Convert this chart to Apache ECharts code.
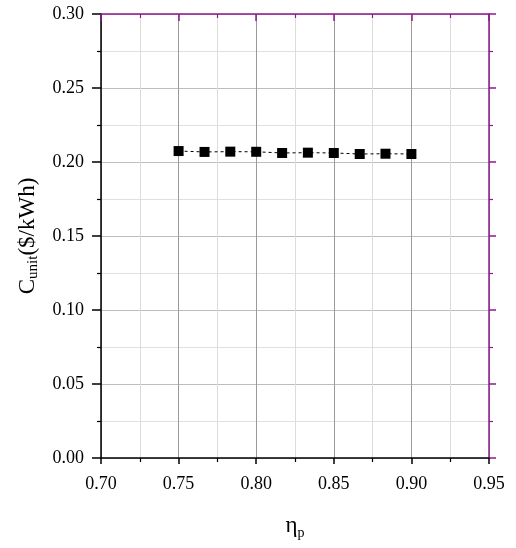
<!DOCTYPE html>
<html>
<head>
<meta charset="utf-8">
<script src="https://cdn.jsdelivr.net/npm/echarts@6/dist/echarts.min.js"></script>
<style>html,body{margin:0;padding:0;background:#fff;}#c{width:516px;height:548px;}</style>
</head>
<body>
<div id="c"></div>
<script>
const etaP = [0.75, 0.7667, 0.7833, 0.80, 0.8167, 0.8333, 0.85, 0.8667, 0.8833, 0.90];
const cUnit = [0.2074, 0.2068, 0.2070, 0.2069, 0.2061, 0.2063, 0.2061, 0.2054, 0.2056, 0.2054];
const xTicks = [0.70, 0.75, 0.80, 0.85, 0.90, 0.95];
const yTicks = [0.00, 0.05, 0.10, 0.15, 0.20, 0.25, 0.30];

const FONT = 'Liberation Serif';
const PURPLE = '#8f1a8f';
const chart = echarts.init(document.getElementById('c'), null, {renderer: 'canvas'});
chart.setOption({
  animation: false,
  grid: {left: 101, right: 27, top: 14, bottom: 90, containLabel: false},
  xAxis: [{
    type: 'value', min: xTicks[0], max: xTicks[xTicks.length - 1], interval: 0.05,
    position: 'bottom',
    axisLine: {show: true, onZero: false, lineStyle: {color: '#000', width: 1.5}},
    axisTick: {show: true, length: 6, lineStyle: {color: '#000', width: 1.5}},
    minorTick: {show: true, splitNumber: 2, length: 4, lineStyle: {color: '#000', width: 1.2}},
    axisLabel: {fontFamily: FONT, fontSize: 18, color: '#000', margin: 17, formatter: v => v.toFixed(2)},
    splitLine: {show: true, lineStyle: {color: '#9a9a9a', width: 1}},
    minorSplitLine: {show: true, lineStyle: {color: '#dcdcdc', width: 1}},
    name: '{a|η}{s|p}', nameLocation: 'middle', nameGap: 54,
    nameTextStyle: {rich: {
      a: {fontFamily: FONT, fontSize: 23, color: '#000'},
      s: {fontFamily: FONT, fontSize: 14, color: '#000', verticalAlign: 'bottom', padding: [14, 0, 0, 0]}
    }}
  }, {
    type: 'value', min: xTicks[0], max: xTicks[xTicks.length - 1], interval: 0.05,
    position: 'top',
    axisLine: {show: true, onZero: false, lineStyle: {color: PURPLE, width: 1.5}},
    axisTick: {show: true, inside: true, length: 7, lineStyle: {color: PURPLE, width: 1.5}},
    minorTick: {show: true, splitNumber: 2, length: 4, lineStyle: {color: PURPLE, width: 1.2}},
    axisLabel: {show: false}, splitLine: {show: false}
  }],
  yAxis: [{
    type: 'value', min: yTicks[0], max: yTicks[yTicks.length - 1], interval: 0.05,
    position: 'left',
    axisLine: {show: true, onZero: false, lineStyle: {color: '#000', width: 1.5}},
    axisTick: {show: true, length: 9, lineStyle: {color: '#000', width: 1.5}},
    minorTick: {show: true, splitNumber: 2, length: 4, lineStyle: {color: '#000', width: 1.2}},
    axisLabel: {fontFamily: FONT, fontSize: 18, color: '#000', margin: 17, formatter: v => v.toFixed(2)},
    splitLine: {show: true, lineStyle: {color: '#bdbdbd', width: 1}},
    minorSplitLine: {show: true, lineStyle: {color: '#e0e0e0', width: 1}},
    name: '{a|C}{s|unit}{a|($/kWh)}', nameLocation: 'middle', nameGap: 60, nameRotate: 90,
    nameTextStyle: {rich: {
      a: {fontFamily: FONT, fontSize: 23, color: '#000'},
      s: {fontFamily: FONT, fontSize: 15, color: '#000', verticalAlign: 'bottom', padding: [12, 0, 0, 0]}
    }}
  }, {
    type: 'value', min: yTicks[0], max: yTicks[yTicks.length - 1], interval: 0.05,
    position: 'right',
    axisLine: {show: true, onZero: false, lineStyle: {color: PURPLE, width: 1.5}},
    axisTick: {show: true, inside: false, length: 7, lineStyle: {color: PURPLE, width: 1.5}},
    minorTick: {show: true, splitNumber: 2, length: 4, lineStyle: {color: PURPLE, width: 1.2}},
    axisLabel: {show: false}, splitLine: {show: false}
  }],
  series: [{
    type: 'line', xAxisIndex: 0, yAxisIndex: 0,
    data: etaP.map((x, i) => [x, cUnit[i]]),
    symbol: 'rect', symbolSize: 10,
    itemStyle: {color: '#000'},
    lineStyle: {color: '#000', width: 1, type: [3, 3]},
    z: 5
  }]
});
</script>
</body>
</html>
